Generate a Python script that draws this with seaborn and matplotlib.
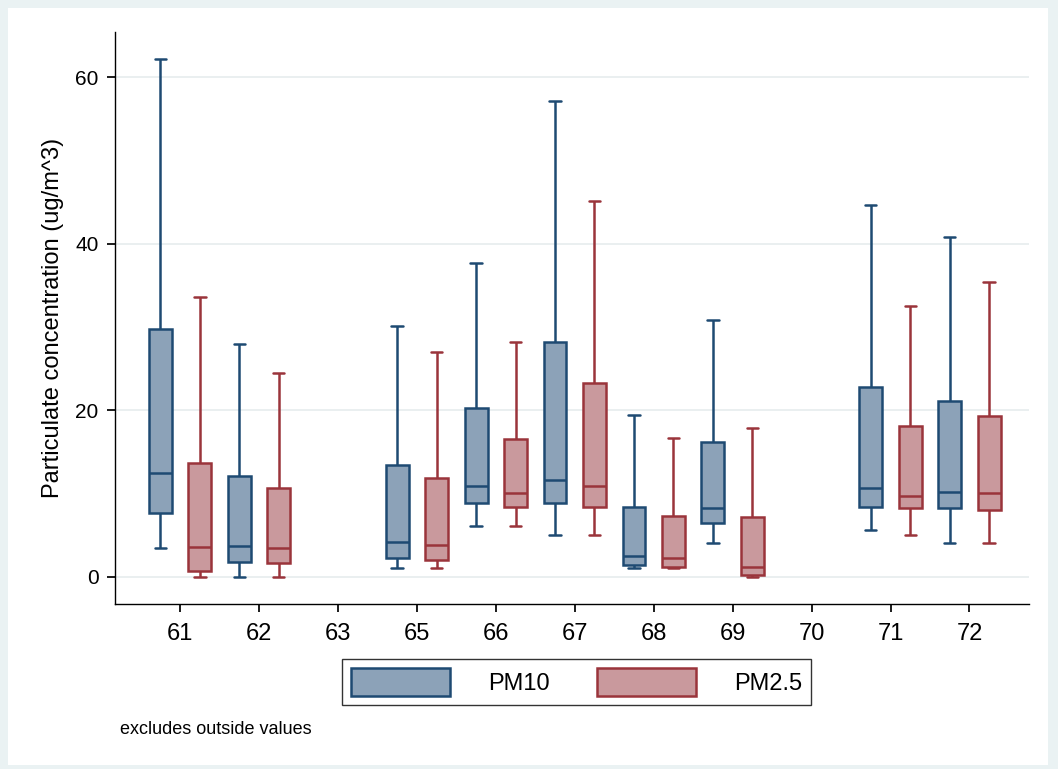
import numpy as np
import pandas as pd
import matplotlib.pyplot as plt
from matplotlib.patches import Patch, Rectangle
import seaborn as sns

sns.set_theme(style="white")
plt.rcParams['font.family'] = ['Liberation Sans', 'DejaVu Sans']
plt.rcParams['text.color'] = 'black'
plt.rcParams['axes.labelcolor'] = 'black'
plt.rcParams['xtick.color'] = 'black'
plt.rcParams['ytick.color'] = 'black'

# Categories shown on the x axis (63 and 70 have no data)
stations = ['61', '62', '63', '65', '66', '67', '68', '69', '70', '71', '72']
with_data = ['61', '62', '65', '66', '67', '68', '69', '71', '72']

# Five-number summaries (min, q1, median, q3, max)
pm10_stats = [
    [3.4, 7.7, 12.4, 29.8, 62.2],
    [0.0, 1.8, 3.7, 12.1, 28.0],
    [1.1, 2.2, 4.2, 13.4, 30.1],
    [6.1, 8.9, 10.9, 20.3, 37.7],
    [5.0, 8.9, 11.6, 28.2, 57.1],
    [1.0, 1.4, 2.5, 8.4, 19.4],
    [4.1, 6.5, 8.3, 16.2, 30.8],
    [5.6, 8.4, 10.7, 22.8, 44.6],
    [4.1, 8.2, 10.2, 21.1, 40.8],
]
pm25_stats = [
    [0.0, 0.7, 3.6, 13.7, 33.6],
    [0.0, 1.6, 3.4, 10.6, 24.5],
    [1.1, 2.0, 3.8, 11.8, 27.0],
    [6.1, 8.4, 10.0, 16.6, 28.2],
    [5.0, 8.4, 10.9, 23.3, 45.1],
    [1.0, 1.2, 2.3, 7.3, 16.7],
    [0.0, 0.2, 1.2, 7.2, 17.9],
    [5.0, 8.3, 9.7, 18.1, 32.5],
    [4.1, 8.0, 10.0, 19.3, 35.4],
]

rows = []
for st, a, b in zip(with_data, pm10_stats, pm25_stats):
    for v in a:
        rows.append((st, 'PM10', v))
    for v in b:
        rows.append((st, 'PM2.5', v))
df = pd.DataFrame(rows, columns=['station', 'pollutant', 'value'])

styles = {'PM10': ('#8CA2B8', '#1E4A72'), 'PM2.5': ('#C9999D', '#9A343B')}

fig = plt.figure(figsize=(10.58, 7.69), dpi=100)
fig.patch.set_facecolor('#EAF2F3')
fig.patches.append(Rectangle((8 / 1058, 4 / 769), 1040 / 1058, 757 / 769,
                             transform=fig.transFigure, facecolor='white',
                             edgecolor='none', zorder=-10))
ax = fig.add_axes([0.109, 0.215, 0.864, 0.743])
ax.set_facecolor('white')
ax.set_zorder(1)

for pol, (fill, edge) in styles.items():
    sns.boxplot(data=df[df['pollutant'] == pol], x='station', y='value',
                hue='pollutant', hue_order=['PM10', 'PM2.5'], order=stations,
                whis=np.inf, width=1.0, gap=0.42, dodge=True,
                palette={'PM10': fill, 'PM2.5': fill},
                linecolor=edge, linewidth=1.8, saturation=1, ax=ax, legend=False)

ax.set_ylim(-3.24, 65.4)
ax.set_xlim(-0.82, 10.76)
ax.set_yticks([0, 20, 40, 60])
ax.yaxis.grid(True, color='#E6ECEE', linewidth=1.2)
ax.set_axisbelow(True)
ax.tick_params(axis='y', labelsize=15, length=6, left=True, pad=6)
ax.tick_params(axis='x', labelsize=17, length=6, bottom=True, pad=8)
ax.set_xlabel('')
ax.set_ylabel('Particulate concentration (ug/m^3)', fontsize=17, labelpad=8)
for s in ['top', 'right']:
    ax.spines[s].set_visible(False)
for s in ['left', 'bottom']:
    ax.spines[s].set_color('black')
    ax.spines[s].set_linewidth(1.0)

handles = [Patch(facecolor=styles[p][0], edgecolor=styles[p][1], linewidth=1.8, label=p)
           for p in ['PM10', 'PM2.5']]
fig.legend(handles=handles, loc='center', bbox_to_anchor=(0.545, 0.113), ncol=2,
           fontsize=17, frameon=True, fancybox=False, edgecolor='black',
           handlelength=4.2, handleheight=1.4, columnspacing=2.0, handletextpad=1.6,
           borderpad=0.4, borderaxespad=0)
fig.text(120 / 1058, 1 - 729 / 769, 'excludes outside values', fontsize=13, va='center')

fig.savefig('out.png', dpi=100, facecolor=fig.get_facecolor())
